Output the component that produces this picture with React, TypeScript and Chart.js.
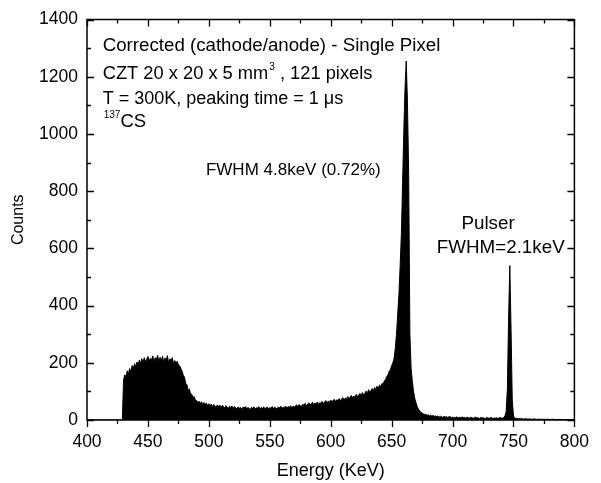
import React, { useEffect, useRef } from "react";
import { Chart, registerables } from "chart.js";

Chart.register(...registerables);

const FONT = '"Liberation Sans", Arial, Helvetica, sans-serif';

// Energy axis / count axis
const X_MIN = 400;
const X_MAX = 800;
const X_STEP = 50;
const X_MINOR = 25;
const Y_MIN = 0;
const Y_MAX = 1400;
const Y_STEP = 200;
const Y_MINOR = 100;

// Histogram segments (1 keV bins). Each segment starts at its given energy.
const emptyStart = 400;
const emptyRegion = [
  0, 0, 0, 0, 0, 0, 0, 0, 0, 0,
  0, 0, 0, 0, 0, 0, 0, 0, 0, 0,
  0, 0, 0, 0, 0, 0, 0, 0, 0, 0,
];

const humpStart = 430;
const comptonHump = [
  140, 158, 150, 172, 162, 180, 168, 190, 178, 197,
  186, 203, 192, 210, 197, 214, 200, 218, 203, 212,
  222, 205, 216, 209, 224, 204, 218, 212, 226, 203,
  219, 207, 223, 201, 217, 210, 225, 198, 214, 206,
  218, 196, 208, 200, 205, 193, 190, 180, 172, 156,
  150, 128, 124, 104, 108, 92, 90, 78, 82, 68,
];

const plateauStart = 490;
const comptonPlateau = [
  68, 60, 66, 57, 64, 53, 61, 55, 59, 50,
  57, 49, 56, 47, 54, 50, 45, 53, 46, 52,
  44, 51, 47, 42, 50, 45, 41, 48, 44, 49,
  40, 47, 43, 38, 46, 41, 44, 37, 45, 42,
  47, 39, 44, 41, 36, 45, 40, 46, 38, 43,
  41, 47, 37, 44, 40, 46, 39, 43, 45, 38,
  44, 40, 47, 39, 45, 42, 37, 46, 41, 48,
  40, 45, 43, 49, 41, 47, 44, 50, 42, 48,
  45,
];

const riseStart = 571;
const peakTail = [
  49, 53, 46, 54, 50, 47, 56, 51, 58, 49,
  55, 60, 52, 57, 62, 53, 59, 56, 63, 54,
  61, 58, 65, 57, 63, 68, 59, 66, 62, 70,
  63, 69, 72, 64, 71, 67, 75, 66, 74, 78,
  70, 77, 73, 82, 74, 80, 86, 76, 84, 79,
  90, 81, 87, 93, 84, 96, 88, 92, 101, 90,
  106, 97, 103, 110, 100, 114, 105, 118, 109, 123,
  115, 128, 124, 137, 142, 152, 158, 170, 176, 190,
];

const photopeakStart = 651;
const photopeak = [
  200, 215, 250, 300, 370, 440, 540, 650, 830, 1010,
  1160, 1255, 1110, 860, 300, 180, 135, 100, 76, 60,
  47, 38, 32, 27, 24,
];

const highTailStart = 676;
const highTail = [
  22, 19, 21, 16, 18, 15, 17, 14, 16, 12,
  15, 11, 14, 10, 13, 11, 9, 13, 10, 12,
  9, 11, 12, 8, 10, 9, 7, 11, 9, 8,
  10, 7, 11, 8, 9, 6, 10, 8, 7, 10,
  8, 6, 9, 10, 7, 8, 5, 9, 7, 8,
  6, 5, 9, 7, 6, 8, 9, 5, 7, 6,
  8, 5, 7, 9, 6, 7, 9, 14,
];

const pulserStart = 744;
const pulserPeak = [30, 110, 360, 540, 320, 70, 14];

const backgroundStart = 751;
const aboveBackground = [
  7, 5, 6, 4, 5, 4, 5, 3, 4, 5,
  3, 4, 3, 4, 2, 3, 4, 3, 2, 3,
  3, 2, 3, 2, 3, 2, 2, 3, 2, 2,
  2, 3, 2, 2, 1, 2, 2, 1, 2, 2,
  1, 2, 1, 2, 1, 1, 2, 1, 1, 1,
];

const segments: [number, number[]][] = [
  [emptyStart, emptyRegion],
  [humpStart, comptonHump],
  [plateauStart, comptonPlateau],
  [riseStart, peakTail],
  [photopeakStart, photopeak],
  [highTailStart, highTail],
  [pulserStart, pulserPeak],
  [backgroundStart, aboveBackground],
];

type Part = { t: string; sup?: boolean };
type Note = { e: number; c: number; size: number; parts: Part[] };

const annotations: Note[] = [
  { e: 412.9, c: 1291, size: 18.7, parts: [{ t: "Corrected (cathode/anode) - Single Pixel" }] },
  { e: 412.9, c: 1193, size: 18.3, parts: [{ t: "CZT 20 x 20 x 5 mm" }, { t: "3", sup: true }, { t: " , 121 pixels" }] },
  { e: 412.9, c: 1106, size: 18, parts: [{ t: "T = 300K, peaking time = 1 μs" }] },
  { e: 412.9, c: 1025, size: 18.5, parts: [{ t: "137", sup: true }, { t: "CS" }] },
  { e: 497.6, c: 857, size: 17, parts: [{ t: "FWHM 4.8keV (0.72%)" }] },
  { e: 707.3, c: 667, size: 18.8, parts: [{ t: "Pulser" }] },
  { e: 687.1, c: 585, size: 18.8, parts: [{ t: "FWHM=2.1keV" }] },
];

function buildPoints() {
  const pts: { x: number; y: number }[] = [];
  for (const [start, vals] of segments) {
    vals.forEach((v, i) => pts.push({ x: start + i, y: v }));
  }
  return pts;
}

const framePlugin = {
  id: "frameTicks",
  afterDatasetsDraw(chart: any) {
    const { ctx, chartArea, scales } = chart;
    const { left, right, top, bottom } = chartArea;
    const x = scales.x;
    const y = scales.y;
    ctx.save();
    ctx.strokeStyle = "#000";
    ctx.lineWidth = 1.5;
    ctx.strokeRect(left, top, right - left, bottom - top);
    ctx.lineWidth = 1.3;
    ctx.beginPath();
    for (let v = X_MIN; v <= X_MAX; v += X_MINOR) {
      const px = Math.round(x.getPixelForValue(v)) + 0.5;
      const len = v % X_STEP === 0 ? 7 : 4;
      ctx.moveTo(px, bottom);
      ctx.lineTo(px, bottom + len);
      ctx.moveTo(px, top);
      ctx.lineTo(px, top + len);
    }
    for (let v = Y_MIN; v <= Y_MAX; v += Y_MINOR) {
      const py = Math.round(y.getPixelForValue(v)) + 0.5;
      const len = v % Y_STEP === 0 ? 7 : 4;
      ctx.moveTo(left, py);
      ctx.lineTo(left + len, py);
      ctx.moveTo(right, py);
      ctx.lineTo(right - len, py);
    }
    ctx.stroke();
    ctx.restore();
  },
  afterDraw(chart: any) {
    const { ctx, scales } = chart;
    ctx.save();
    ctx.fillStyle = "#000";
    ctx.textAlign = "left";
    ctx.textBaseline = "alphabetic";
    for (const n of annotations) {
      let px = scales.x.getPixelForValue(n.e);
      const py = scales.y.getPixelForValue(n.c);
      for (const p of n.parts) {
        if (p.sup) {
          ctx.font = `10px ${FONT}`;
          ctx.fillText(p.t, px + 1, py - 9);
          px += ctx.measureText(p.t).width + 1;
        } else {
          ctx.font = `${n.size}px ${FONT}`;
          ctx.fillText(p.t, px, py);
          px += ctx.measureText(p.t).width;
        }
      }
    }
    ctx.restore();
  },
};

export default function App() {
  const canvasRef = useRef<HTMLCanvasElement | null>(null);

  useEffect(() => {
    if (!canvasRef.current) return;
    const chart = new Chart(canvasRef.current, {
      type: "line",
      data: {
        datasets: [
          {
            data: buildPoints(),
            borderColor: "#000",
            backgroundColor: "#000",
            borderWidth: 1,
            fill: "origin",
            pointRadius: 0,
            tension: 0,
          },
        ],
      },
      options: {
        responsive: false,
        animation: false,
        layout: { padding: { top: 17, right: 18, left: 0, bottom: 0 } },
        plugins: {
          legend: { display: false },
          tooltip: { enabled: false },
        },
        scales: {
          x: {
            type: "linear",
            min: X_MIN,
            max: X_MAX,
            grid: { display: false, drawTicks: false },
            border: { display: false },
            ticks: {
              stepSize: X_STEP,
              color: "#000",
              font: { family: FONT, size: 17.5 },
              padding: 12,
              maxRotation: 0,
              callback: (v: any) => String(v),
            },
            title: {
              display: true,
              text: "Energy (KeV)",
              color: "#000",
              font: { family: FONT, size: 18 },
              padding: { top: 0, bottom: 1 },
            },
            afterFit: (s: any) => {
              s.height = 63;
            },
          },
          y: {
            min: Y_MIN,
            max: Y_MAX,
            grid: { display: false, drawTicks: false },
            border: { display: false },
            ticks: {
              stepSize: Y_STEP,
              color: "#000",
              font: { family: FONT, size: 17.5 },
              padding: 9,
              callback: (v: any) => String(v),
            },
            title: {
              display: true,
              text: "Counts",
              color: "#000",
              font: { family: FONT, size: 16 },
              padding: { top: 9, bottom: 0 },
            },
            afterFit: (s: any) => {
              s.width = 87;
            },
          },
        },
      },
      plugins: [framePlugin],
    } as any);
    return () => chart.destroy();
  }, []);

  return (
    <div style={{ position: "absolute", left: 0, top: 0, width: 601, height: 483, background: "#fff" }}>
      <canvas ref={canvasRef} width={601} height={483} style={{ width: 601, height: 483, display: "block" }} />
    </div>
  );
}
